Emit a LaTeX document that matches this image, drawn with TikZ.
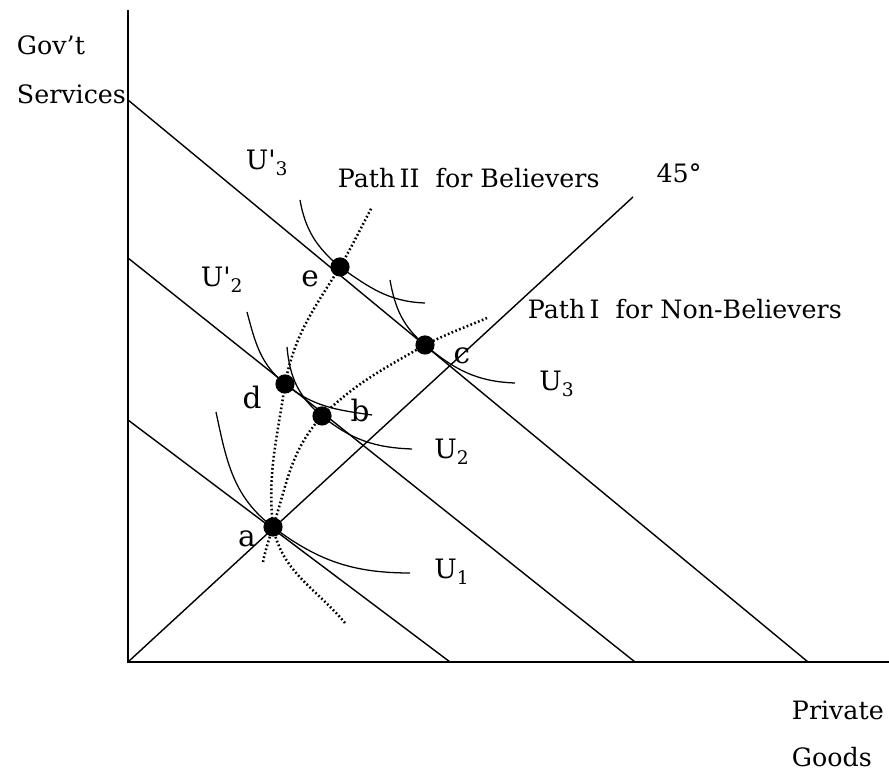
\documentclass[tikz,border=0pt]{standalone}
\usepackage{fontspec}
\setmainfont{DejaVu Serif}
\usetikzlibrary{positioning}
\newcommand{\ulab}[2]{U#1\textsubscript{#2}}

\begin{document}
\begin{tikzpicture}[every node/.style={font=\fontsize{18}{20}\selectfont},
  pt/.style={circle,fill=black,inner sep=0pt,minimum size=0.48cm},
  ptlab/.style={font=\fontsize{21}{23}\selectfont},
  ulabel/.style={font=\fontsize{19}{21}\selectfont},
  indiff/.style={line width=0.9pt},
  expath/.style={line width=1.8pt,dash pattern=on 1.2pt off 1.7pt}]
\useasboundingbox (-3.2,-2.8) rectangle (19.025,16.55);
% axes, budget lines, 45 degree line
\draw[line width=1.1pt] (0,16.3) -- (0,0) -- (19.025,0);
\foreach \yb/\xb in {6.05/8.05,10.1/12.675,14.05/17}
  \draw[line width=1pt] (0,\yb) -- (\xb,0);
\draw[line width=1pt] (0,0) -- (12.625,11.625);

\coordinate (a) at (3.625,3.375);
\coordinate (d) at (3.925,6.95);
\coordinate (b) at (4.85,6.15);
\coordinate (e) at (5.3,9.875);
\coordinate (c) at (7.425,7.925);

% indifference curves
\draw[indiff] (2.2,6.25) to[out=-78,in=143] (a) to[out=-37,in=180] (7.05,2.225);
\draw[indiff] (2.975,8.75) to[out=-75,in=141] (d) to[out=-39,in=172] (6.1,6.175);
\draw[indiff] (3.975,7.875) to[out=-85,in=141] (b) to[out=-39,in=178] (7.1,5.325);
\draw[indiff] (4.3,11.55) to[out=-80,in=140] (e) to[out=-35,in=178] (7.425,8.975);
\draw[indiff] (6.55,9.55) to[out=-80,in=140] (c) to[out=-40,in=178] (9.675,6.975);

% expansion paths
\draw[expath] (3.375,2.5) to[out=78,in=-108] (a) to[out=72,in=-132] (b)
  to[out=44,in=-150] (c) to[out=27,in=-157] (8.975,8.6);
\draw[expath] (5.425,0.975) to[out=130,in=-78] (a) to[out=96,in=-98] (d)
  to[out=79,in=-122] (e) to[out=60,in=-118] (6.1,11.375);

\foreach \p in {a,b,c,d,e}
  \node[pt] (dot\p) at (\p) {};

\node[ptlab] (la) at (2.975,3.075) {a};
\node[ptlab] (ld) at (3.1,6.6) {d};
\node[ptlab] (lb) at (5.8,6.275) {b};
\node[ptlab] (le) at (4.55,9.58) {e};
\node[ptlab] (lc) at (8.35,7.65) {c};

\node[ulabel] (u1) at (8.1,2.25) {\ulab{}{1}};
\node[ulabel] (u2) at (8.1,5.25) {\ulab{}{2}};
\node[ulabel] (u3) at (10.725,6.95) {\ulab{}{3}};
\node[ulabel] (u2p) at (2.35,9.55) {\ulab{\textquotesingle}{2}};
\node[ulabel] (u3p) at (3.475,12.475) {\ulab{\textquotesingle}{3}};

\node (deg) at (13.775,12.225) {45°};
\node[anchor=west] (pathtwo) at (5.125,12.1) {Path\,II\ \ for Believers};
\node[anchor=west] (pathone) at (9.875,8.825) {Path\,I\ \ for Non-Believers};

\node[anchor=west] (govt) at (-2.9,15.425) {Gov’t};
\node[anchor=west] (serv) at (-2.9,14.2) {Services};
\node[anchor=west] (priv) at (16.475,-1.2) {Private};
\node[anchor=west] (goods) at (16.475,-2.375) {Goods};
\end{tikzpicture}
\end{document}
